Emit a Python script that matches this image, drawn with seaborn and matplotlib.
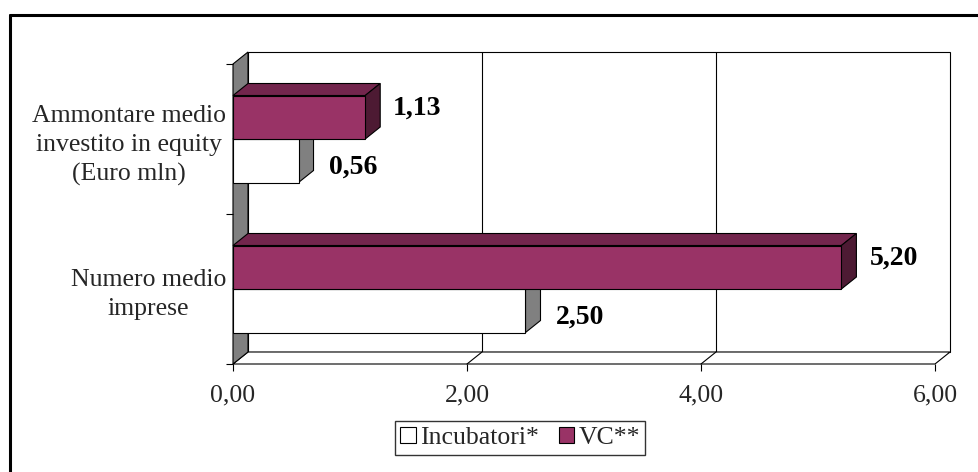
import numpy as np
import pandas as pd
import seaborn as sns
import matplotlib.pyplot as plt
from matplotlib.patches import Polygon, Patch
from matplotlib.lines import Line2D

# ---- data ----
categorie = ["Ammontare medio\ninvestito in equity\n(Euro mln)", "Numero medio\nimprese"]
incubatori = [0.56, 2.50]
vc = [1.13, 5.20]
serie = ["Incubatori*", "VC**"]
x_ticks = [0, 2, 4, 6]

df = pd.DataFrame({
    "voce": categorie * 2,
    "valore": incubatori + vc,
    "serie": [serie[0]] * 2 + [serie[1]] * 2,
})

sns.set_style("white")
plt.rcParams["font.family"] = ["Liberation Serif", "DejaVu Serif"]

W, H = 979, 472
fig = plt.figure(figsize=(W / 100, H / 100), dpi=100)
ax = fig.add_axes([233 / W, 1 - 364 / H, 702 / W, 300 / H])

colori = {"Incubatori*": "#ffffff", "VC**": "#993366"}
top_col = {"Incubatori*": "#ffffff", "VC**": "#73264d"}
side_col = {"Incubatori*": "#808080", "VC**": "#4d1a33"}
ordine = ["VC**", "Incubatori*"]

sns.barplot(data=df, x="valore", y="voce", hue="serie", hue_order=ordine,
            palette=colori, orient="h", width=0.58, saturation=1,
            edgecolor="black", linewidth=0.8, legend=False, ax=ax)

ax.set_xlim(0, 6)
ax.set_ylim(1.5, -0.5)
for s in ax.spines.values():
    s.set_visible(False)
ax.set_xlabel("")
ax.set_ylabel("")

DX, DY = 15, 12  # depth of the 3-D box in pixels


def shift(x, y):
    d = ax.transData.transform((x, y))
    return tuple(ax.transData.inverted().transform((d[0] + DX, d[1] + DY)))


def quad(pts, fc, z, lw=0.8):
    ax.add_patch(Polygon(pts, closed=True, facecolor=fc, edgecolor="black",
                         linewidth=lw, zorder=z, clip_on=False))


y0, y1 = -0.5, 1.5
# back wall, floor, left wall
quad([shift(0, y0), shift(6, y0), shift(6, y1), shift(0, y1)], "white", 0.3)
quad([(0, y1), (6, y1), shift(6, y1), shift(0, y1)], "white", 0.4)
quad([(0, y0), (0, y1), shift(0, y1), shift(0, y0)], "#808080", 0.5)
for xv in x_ticks[1:-1]:
    a, b = shift(xv, y0), shift(xv, y1)
    ax.plot([a[0], b[0]], [a[1], b[1]], color="black", lw=0.8, zorder=0.35, clip_on=False)
    c = shift(xv, y1)
    ax.plot([xv, c[0]], [y1, c[1]], color="black", lw=0.8, zorder=0.45, clip_on=False)

# 3-D faces of the bars, value labels
for k, (nome, cont) in enumerate(zip(ordine, ax.containers)):
    zb = 2 if nome == "Incubatori*" else 6
    for rect in cont:
        v = rect.get_width()
        yt = rect.get_y()
        yb = yt + rect.get_height()
        rect.set_zorder(zb + 1)
        quad([(0, yt), (v, yt), shift(v, yt), shift(0, yt)], top_col[nome], zb)
        quad([(v, yt), (v, yb), shift(v, yb), shift(v, yt)], side_col[nome], zb)
        testo = f"{v:.2f}".replace(".", ",")
        if nome == "VC**":
            off = (28 * 0.72, 9 * 0.72)
        else:
            off = (30 * 0.72, -6 * 0.72)
        ax.annotate(testo, (v, (yt + yb) / 2), xytext=off, textcoords="offset points",
                    ha="left", va="center", fontsize=20, fontweight="bold",
                    color="black", zorder=10, annotation_clip=False)

# axes ticks
ax.set_xticks(x_ticks)
ax.set_xticklabels([f"{t:.2f}".replace(".", ",") for t in x_ticks], fontsize=18.5)
ax.tick_params(axis="x", direction="out", length=5, width=0.8, color="black", pad=10,
               bottom=True)
ax.set_yticks([0, 1])
ax.set_yticklabels(categorie, fontsize=18.5, linespacing=1.4)
for t in ax.get_yticklabels():
    t.set_multialignment("center")
ax.tick_params(axis="y", length=0, pad=5)
ax.set_yticks([-0.5, 0.5, 1.5], minor=True)
ax.tick_params(axis="y", which="minor", direction="out", length=5, width=0.8,
               color="black", left=True)

# legend
handles = [Patch(facecolor=colori[s], edgecolor="black", linewidth=0.8) for s in serie]
leg = fig.legend(handles, serie, loc="center", bbox_to_anchor=(520 / W, 1 - 438 / H),
                 ncol=2, fontsize=18.5, frameon=True, fancybox=False, handlelength=0.6,
                 handleheight=0.6, handletextpad=0.15, columnspacing=0.8,
                 borderpad=0.22, borderaxespad=0)
leg.get_frame().set_edgecolor("black")
leg.get_frame().set_linewidth(1.0)

# outer frame
fig.add_artist(Line2D([10 / W, 1], [1 - 15 / H, 1 - 15 / H], color="black", lw=2.2,
                      transform=fig.transFigure))
fig.add_artist(Line2D([10 / W, 10 / W], [0, 1 - 15 / H], color="black", lw=2.2,
                      transform=fig.transFigure))

fig.savefig("out.png", dpi=100)
